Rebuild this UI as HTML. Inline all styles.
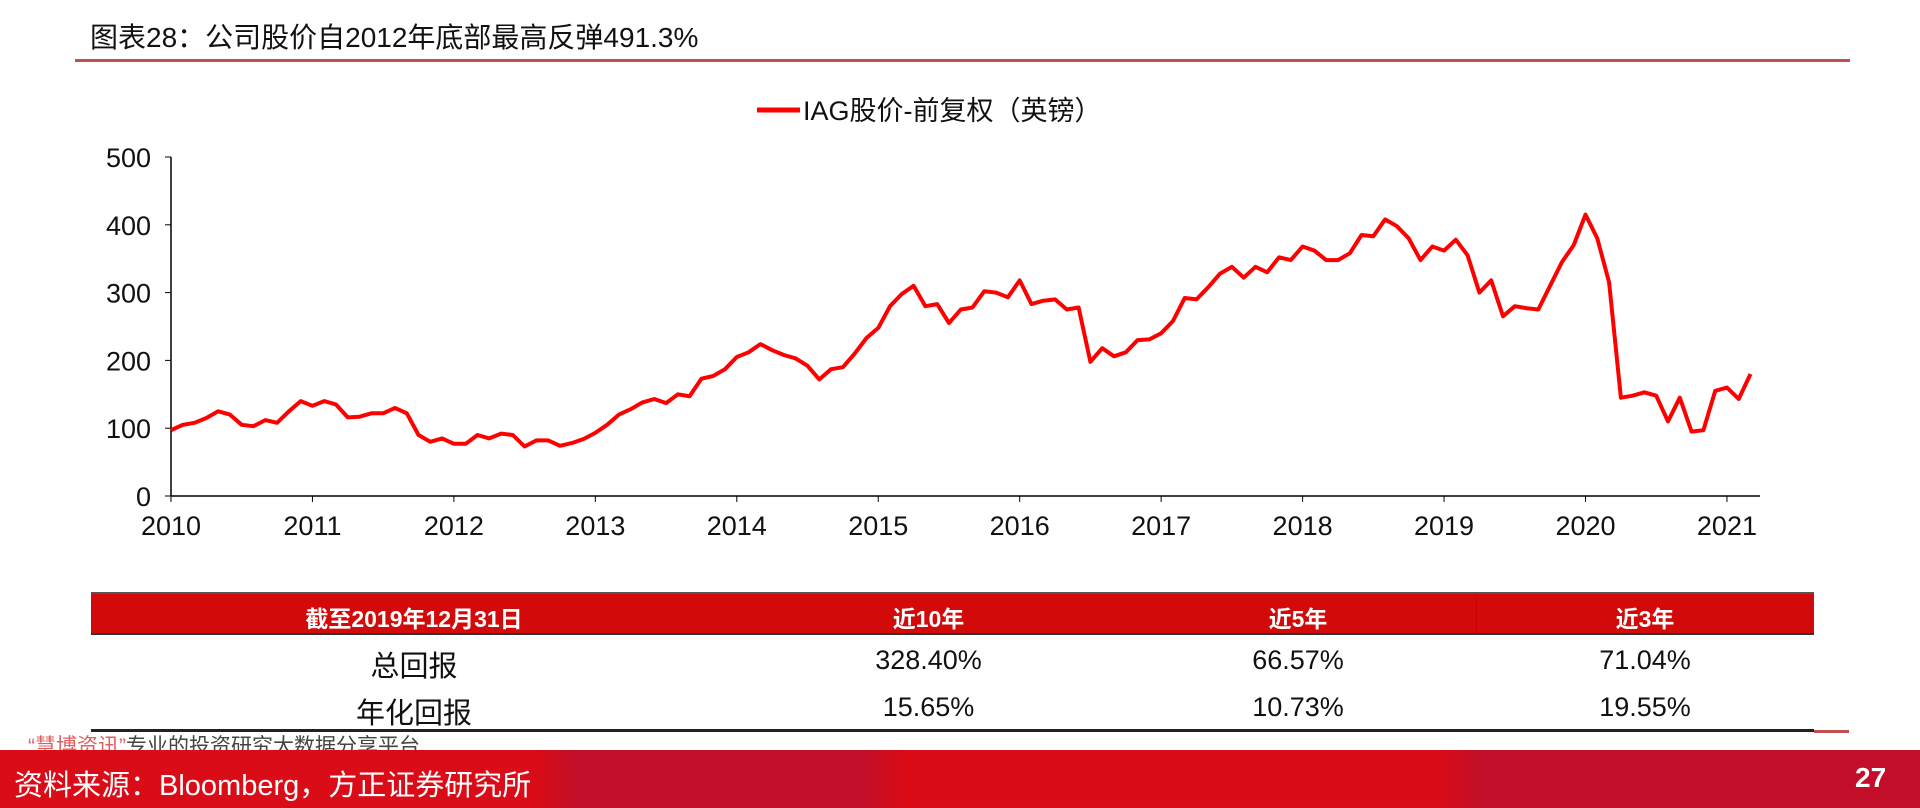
<!DOCTYPE html>
<html><head><meta charset="utf-8"><style>
body{margin:0;width:1920px;height:808px;overflow:hidden;background:#fff;position:relative;font-family:"Liberation Sans","Noto Sans CJK SC",sans-serif}
.a{position:absolute;white-space:nowrap}
</style></head><body>
<div class="a" style="left:90px;top:16px;font-size:28px;color:#111">图表28：公司股价自2012年底部最高反弹491.3%</div>
<div class="a" style="left:75px;top:59px;width:1775px;height:3px;background:#c0504d"></div>
<svg class="a" style="left:0;top:0" width="1920" height="590" id="c">
<line x1="757" y1="110" x2="800" y2="110" stroke="#f00" stroke-width="5"/>
<text x="803" y="120" font-size="27" fill="#111">IAG股价-前复权（英镑）</text>
</svg>
<div class="a" style="left:91px;top:592px;width:1723px;height:43px;background:#d20a0a;border-top:2px solid #555;border-bottom:2px solid #333;box-sizing:border-box"></div>
<div class="a" style="left:1476px;top:594px;width:1px;height:39px;background:#c00"></div>
<div class="a" style="left:91px;top:600px;width:646px;text-align:center;color:#fff;font-size:23px;font-weight:bold">截至2019年12月31日</div>
<div class="a" style="left:737px;top:600px;width:383px;text-align:center;color:#fff;font-size:23px;font-weight:bold">近10年</div>
<div class="a" style="left:1120px;top:600px;width:356px;text-align:center;color:#fff;font-size:23px;font-weight:bold">近5年</div>
<div class="a" style="left:1476px;top:600px;width:338px;text-align:center;color:#fff;font-size:23px;font-weight:bold">近3年</div>
<div class="a" style="left:91px;top:643px;width:646px;text-align:center;font-size:29px;color:#111">总回报</div>
<div class="a" style="left:737px;top:645px;width:383px;text-align:center;font-size:27px;color:#111">328.40%</div>
<div class="a" style="left:1120px;top:645px;width:356px;text-align:center;font-size:27px;color:#111">66.57%</div>
<div class="a" style="left:1476px;top:645px;width:338px;text-align:center;font-size:27px;color:#111">71.04%</div>
<div class="a" style="left:91px;top:690px;width:646px;text-align:center;font-size:29px;color:#111">年化回报</div>
<div class="a" style="left:737px;top:692px;width:383px;text-align:center;font-size:27px;color:#111">15.65%</div>
<div class="a" style="left:1120px;top:692px;width:356px;text-align:center;font-size:27px;color:#111">10.73%</div>
<div class="a" style="left:1476px;top:692px;width:338px;text-align:center;font-size:27px;color:#111">19.55%</div>
<div class="a" style="left:91px;top:729px;width:1723px;height:3px;background:#222"></div>
<div class="a" style="left:1814px;top:730px;width:35px;height:3px;background:#c0504d"></div>
<div class="a" style="left:28px;top:730px;font-size:21px;color:#444"><span style="color:#e06060">“慧博资讯”</span>专业的投资研究大数据分享平台</div>
<div class="a" style="left:0;top:750px;width:1920px;height:58px;background:linear-gradient(90deg,#d90c18 0%,#d90c18 28%,#c20e28 30%,#c20e28 45%,#d90c18 47%,#d90c18 75%,#c20e28 77%,#c20e28 100%)"></div>
<div class="a" style="left:14px;top:762px;font-size:29px;color:#fff">资料来源：Bloomberg，方正证券研究所</div>
<div class="a" style="left:1855px;top:762px;font-size:28px;color:#fff;font-weight:bold">27</div>
<script>
var v=[97,105,108,115,125,120,105,103,112,108,125,140,
133,140,135,116,117,122,122,130,122,90,80,85,
77,77,90,85,92,90,73,82,82,74,78,84,
93,105,120,128,138,143,137,150,147,173,177,187,
205,212,224,215,208,203,192,172,187,190,210,233,
248,280,298,310,280,283,255,275,278,302,300,293,
318,283,288,290,275,278,198,218,206,212,230,231,
240,258,292,290,308,328,338,322,338,330,352,348,
368,362,348,348,358,385,383,408,398,380,348,368,
362,378,355,300,318,265,280,277,275,310,345,370,
415,380,315,145,148,153,148,110,145,95,97,155,
160,143,180];
var X0=171,XW=141.45,Y0=496,YS=339/500;
var s='';
s+='<line x1="'+X0+'" y1="157" x2="'+X0+'" y2="'+Y0+'" stroke="#000" stroke-width="1.5"/>';
s+='<line x1="'+X0+'" y1="'+Y0+'" x2="1760" y2="'+Y0+'" stroke="#000" stroke-width="1.5"/>';
for(var k=0;k<=5;k++){var y=Y0-k*100*YS;s+='<line x1="'+(X0-6)+'" y1="'+y+'" x2="'+X0+'" y2="'+y+'" stroke="#000"/><text x="'+(X0-20)+'" y="'+(y+10)+'" font-size="27" text-anchor="end" fill="#111">'+(k*100)+'</text>';}
for(var yr=0;yr<=11;yr++){var x=X0+yr*XW;s+='<line x1="'+x+'" y1="'+Y0+'" x2="'+x+'" y2="'+(Y0+6)+'" stroke="#000"/><text x="'+x+'" y="'+(Y0+39)+'" font-size="27" text-anchor="middle" fill="#111">'+(2010+yr)+'</text>';}
var p=v.map(function(d,i){return (X0+i/12*XW).toFixed(1)+','+(Y0-d*YS).toFixed(1)}).join(' ');
s+='<polyline points="'+p+'" fill="none" stroke="#f00" stroke-width="4" stroke-linejoin="round"/>';
document.getElementById('c').insertAdjacentHTML('beforeend',s);
</script>
</body></html>
